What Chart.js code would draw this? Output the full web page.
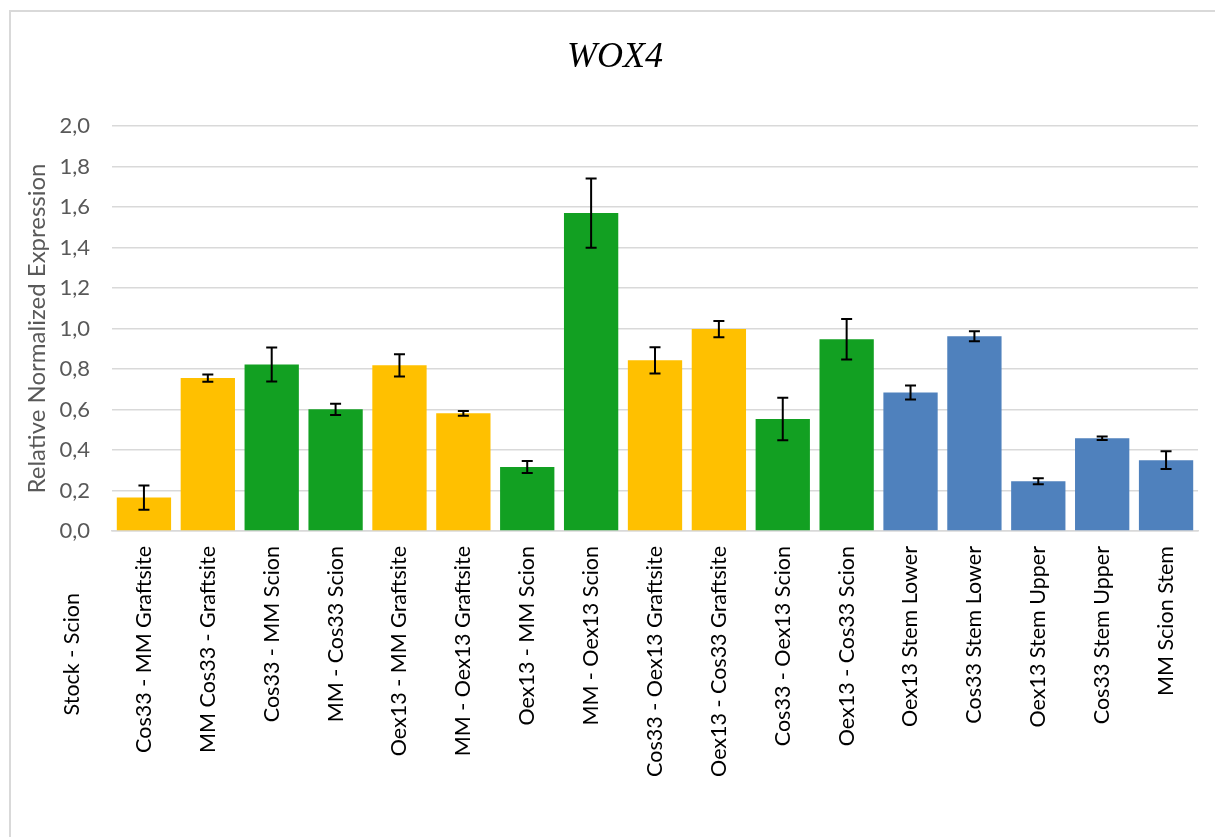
<!DOCTYPE html>
<html>
<head>
<meta charset="utf-8">
<title>WOX4</title>
<script src="https://cdn.jsdelivr.net/npm/chart.js@4"></script>
<style>
  html, body { margin: 0; padding: 0; background: #fff; }
  #wrap { position: relative; width: 1215px; height: 837px; overflow: hidden; }
  #frame { position: absolute; left: 9px; top: 10px; width: 1230px; height: 860px;
           border: 2px solid #d9d9d9; box-sizing: border-box; pointer-events: none; }
  canvas { position: absolute; left: 0; top: 0; }
</style>
</head>
<body>
<div id="wrap">
  <div id="frame"></div>
  <canvas id="c" width="1215" height="837"></canvas>
</div>
<script>
// Sample groups (stock - scion combinations and stem sections)
const categories = [
  'Cos33 - MM Graftsite', 'MM Cos33 - Graftsite', 'Cos33 - MM Scion', 'MM - Cos33 Scion',
  'Oex13 - MM Graftsite', 'MM - Oex13 Graftsite', 'Oex13 - MM Scion', 'MM - Oex13 Scion',
  'Cos33 - Oex13 Graftsite', 'Oex13 - Cos33 Graftsite', 'Cos33 - Oex13 Scion', 'Oex13 - Cos33 Scion',
  'Oex13 Stem Lower', 'Cos33 Stem Lower', 'Oex13 Stem Upper', 'Cos33 Stem Upper', 'MM Scion Stem'
];
// Relative normalized expression of WOX4
const expression = [
  0.165, 0.755, 0.822, 0.601, 0.818, 0.581, 0.316, 1.570,
  0.843, 0.997, 0.553, 0.947, 0.684, 0.962, 0.246, 0.458, 0.350
];
// Standard error (symmetric)
const stdError = [
  0.060, 0.018, 0.084, 0.028, 0.055, 0.012, 0.030, 0.171,
  0.065, 0.040, 0.105, 0.100, 0.034, 0.025, 0.015, 0.009, 0.044
];
// Sample type per bar: graftsite, scion, stem
const sampleType = [
  'graft', 'graft', 'scion', 'scion', 'graft', 'graft', 'scion', 'scion',
  'graft', 'graft', 'scion', 'scion', 'stem', 'stem', 'stem', 'stem', 'stem'
];
const typeColors = { graft: '#FFC000', scion: '#12A022', stem: '#4F81BD' };
const yTicks = [0, 0.2, 0.4, 0.6, 0.8, 1.0, 1.2, 1.4, 1.6, 1.8, 2.0];
const chartTitle = 'WOX4';
const axisGroupLabel = 'Stock - Scion';

const labelFont = "Lato, 'Open Sans', sans-serif";

// Draws the ± error whiskers on top of each bar
const errorBars = {
  id: 'errorBars',
  afterDatasetsDraw(chart) {
    const { ctx, scales: { x, y } } = chart;
    ctx.save();
    ctx.strokeStyle = '#000';
    ctx.lineWidth = 2;
    const cap = 11;
    expression.forEach((v, i) => {
      const cx = x.getPixelForValue(i);
      const yTop = y.getPixelForValue(v + stdError[i]);
      const yBot = y.getPixelForValue(v - stdError[i]);
      ctx.beginPath();
      ctx.moveTo(cx, yTop); ctx.lineTo(cx, yBot);
      ctx.moveTo(cx - cap / 2, yTop); ctx.lineTo(cx + cap / 2, yTop);
      ctx.moveTo(cx - cap / 2, yBot); ctx.lineTo(cx + cap / 2, yBot);
      ctx.stroke();
    });
    ctx.restore();
  }
};

// Italic serif heading centred above the plot
const heading = {
  id: 'heading',
  afterDraw(chart) {
    const { ctx } = chart;
    ctx.save();
    ctx.font = "italic 36px 'Liberation Serif', 'Times New Roman', serif";
    ctx.fillStyle = '#000';
    ctx.textAlign = 'center';
    ctx.textBaseline = 'alphabetic';
    ctx.fillText(chartTitle, 615, 67);
    ctx.restore();
  }
};

// Header for the category axis, drawn left of the first label
const groupHeader = {
  id: 'groupHeader',
  afterDraw(chart) {
    const { ctx, scales: { x } } = chart;
    ctx.save();
    ctx.translate(x.left - 40, x.top + 62);
    ctx.rotate(-Math.PI / 2);
    ctx.font = '21.5px ' + labelFont;
    ctx.fillStyle = '#000';
    ctx.textAlign = 'right';
    ctx.textBaseline = 'middle';
    ctx.fillText(axisGroupLabel, 0, 0);
    ctx.restore();
  }
};

new Chart(document.getElementById('c'), {
  type: 'bar',
  data: {
    labels: categories,
    datasets: [{
      data: expression,
      backgroundColor: sampleType.map(t => typeColors[t]),
      borderWidth: 0,
      barPercentage: 0.85,
      categoryPercentage: 1.0
    }]
  },
  options: {
    responsive: false,
    animation: false,
    layout: { padding: { left: 10, right: 17, top: 126, bottom: 10 } },
    plugins: {
      legend: { display: false },
      tooltip: { enabled: false },
      title: { display: false }
    },
    scales: {
      x: {
        grid: { display: false, drawTicks: false },
        border: { display: true, color: '#d9d9d9', width: 1.5 },
        ticks: {
          color: '#000',
          font: { family: labelFont, size: 21.5 },
          minRotation: 90, maxRotation: 90, autoSkip: false,
          padding: 15
        },
        afterFit(s) { s.height = 837 - 531 - 10; }
      },
      y: {
        min: 0, max: 2.0,
        afterBuildTicks(s) { s.ticks = yTicks.map(v => ({ value: v })); },
        grid: { color: '#d9d9d9', lineWidth: 1.5, drawTicks: false },
        border: { display: false },
        ticks: {
          color: '#595959',
          font: { family: labelFont, size: 22 },
          padding: 22,
          callback: v => v.toFixed(1).replace('.', ',')
        },
        title: {
          display: true,
          text: 'Relative Normalized Expression',
          color: '#595959',
          font: { family: labelFont, size: 24 },
          padding: { top: 13, bottom: 0 }
        },
        afterFit(s) { s.width = 112 - 10; }
      }
    }
  },
  plugins: [errorBars, heading, groupHeader]
});
</script>
</body>
</html>
